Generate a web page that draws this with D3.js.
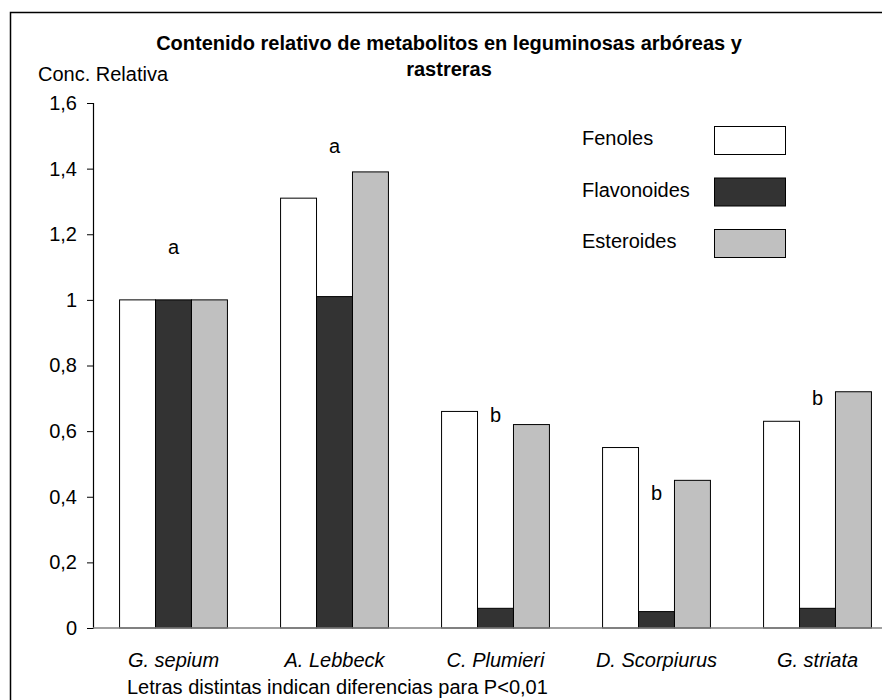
<!DOCTYPE html>
<html>
<head>
<meta charset="utf-8">
<script src="https://cdn.jsdelivr.net/npm/d3@7"></script>
<style>
body { margin: 0; background: #fff; }
text { font-family: "Liberation Sans", Arial, sans-serif; fill: #000; }
</style>
</head>
<body>
<div id="viz"></div>
<script>
var width = 882,
    height = 700;

var species = ["G. sepium", "A. Lebbeck", "C. Plumieri", "D. Scorpiurus", "G. striata"];
var series = ["Fenoles", "Flavonoides", "Esteroides"];
var fenoles = [1, 1.31, 0.66, 0.55, 0.63];
var flavonoides = [1, 1.01, 0.06, 0.05, 0.06];
var esteroides = [1, 1.39, 0.62, 0.45, 0.72];
var letters = ["a", "a", "b", "b", "b"];
var letterPos = [1.16, 1.47, 0.65, 0.41, 0.70];     // where the letters sit, in data units
var yTicks = [0, 0.2, 0.4, 0.6, 0.8, 1, 1.2, 1.4, 1.6];

var values = [fenoles, flavonoides, esteroides];

var svg = d3.select("#viz")
    .append("svg")
    .attr("width", width)
    .attr("height", height);

// outer frame runs off the right and bottom
svg.append("rect")
    .attr("x", 10.5).attr("y", 12.5)
    .attr("width", 900).attr("height", 720)
    .attr("fill", "none")
    .attr("stroke", "#000")
    .attr("stroke-width", 1.5);

var color = d3.scaleOrdinal()
    .domain(series)
    .range(["#ffffff", "#333333", "#c0c0c0"]);

var x0 = d3.scaleBand()
    .domain(species)
    .range([93, 898])
    .paddingInner(0.33)
    .paddingOuter(0.165);

var x1 = d3.scaleBand()
    .domain(series)
    .range([0, x0.bandwidth()]);

var y = d3.scaleLinear()
    .domain([0, 1.6])
    .range([628, 103]);

// ****************** Bars ***************************
var group = svg.append("g")
  .selectAll("g")
  .data(species)
  .enter().append("g")
    .attr("transform", function(d) { return "translate(" + x0(d) + ",0)"; });

group.selectAll("rect")
    .data(function(d, i) { return series.map(function(s, j) { return {key: s, value: values[j][i]}; }); })
    .enter().append("rect")
      .attr("x", function(d) { return x1(d.key); })
      .attr("y", function(d) { return y(d.value); })
      .attr("width", x1.bandwidth())
      .attr("height", function(d) { return y(0) - y(d.value); })
      .attr("fill", function(d) { return color(d.key); })
      .attr("stroke", "#000")
      .attr("stroke-width", 1);

group.append("text")
    .attr("x", x0.bandwidth() / 2)
    .attr("y", function(d, i) { return y(letterPos[i]) + 7; })
    .attr("text-anchor", "middle")
    .style("font-size", "20px")
    .text(function(d, i) { return letters[i]; });

// ****************** Axes ***************************
var yAxis = svg.append("g")
    .attr("transform", "translate(93,0)")
    .call(d3.axisLeft(y).tickValues(yTicks).tickSize(6).tickPadding(10)
      .tickFormat(function(d) { return Number.isInteger(d) ? String(d) : d.toFixed(1).replace(".", ","); }));
yAxis.select(".domain").attr("stroke", "#000").attr("stroke-width", 1.2);
yAxis.selectAll(".tick line").attr("stroke", "#000");
yAxis.selectAll("text").style("font-size", "20px").attr("fill", "#000");

svg.append("line")
    .attr("x1", 93).attr("x2", 898)
    .attr("y1", y(0)).attr("y2", y(0))
    .attr("stroke", "#808080")
    .attr("stroke-width", 1.5);

svg.append("g")
  .selectAll("text")
  .data(species)
  .enter().append("text")
    .attr("x", function(d) { return x0(d) + x0.bandwidth() / 2; })
    .attr("y", 667)
    .attr("text-anchor", "middle")
    .style("font-size", "20px")
    .style("font-style", "italic")
    .text(function(d) { return d; });

// ****************** Titles ***************************
svg.append("text")
    .attr("x", 449).attr("y", 50)
    .attr("text-anchor", "middle")
    .style("font-size", "20px")
    .style("font-weight", "bold")
    .text("Contenido relativo de metabolitos en leguminosas arbóreas y");
svg.append("text")
    .attr("x", 449).attr("y", 76)
    .attr("text-anchor", "middle")
    .style("font-size", "20px")
    .style("font-weight", "bold")
    .text("rastreras");

svg.append("text")
    .attr("x", 38).attr("y", 81)
    .style("font-size", "20px")
    .text("Conc. Relativa");

svg.append("text")
    .attr("x", 127).attr("y", 694)
    .style("font-size", "20px")
    .text("Letras distintas indican diferencias para P<0,01");

// ****************** Legend ***************************
var legend = svg.append("g")
  .selectAll("g")
  .data(series)
  .enter().append("g")
    .attr("transform", function(d, i) { return "translate(0," + (i * 51.5) + ")"; });

legend.append("text")
    .attr("x", 582).attr("y", 145)
    .style("font-size", "20px")
    .text(function(d) { return d; });

legend.append("rect")
    .attr("x", 714.5).attr("y", 126.5)
    .attr("width", 71).attr("height", 28)
    .attr("fill", function(d) { return color(d); })
    .attr("stroke", "#000")
    .attr("stroke-width", 1);
</script>
</body>
</html>
